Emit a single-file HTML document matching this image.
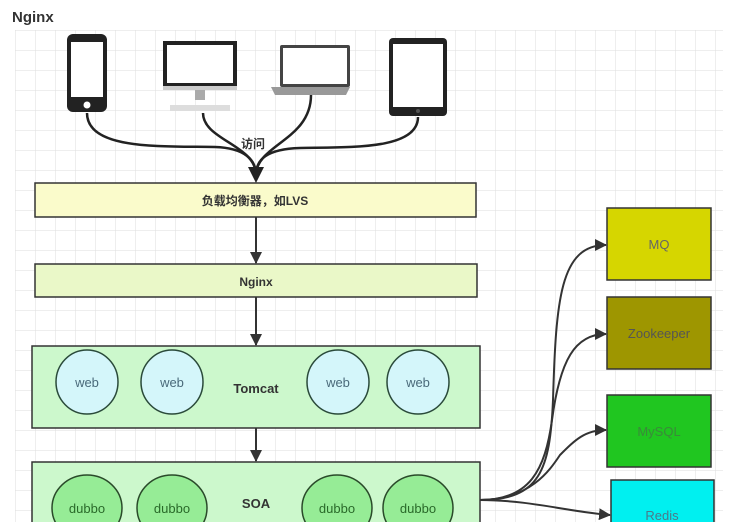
<!DOCTYPE html>
<html><head><meta charset="utf-8"><style>
html,body{margin:0;padding:0;background:#fff;}
body{width:730px;height:522px;overflow:hidden;position:relative;font-family:"Liberation Sans","Noto Sans CJK SC",sans-serif;}
</style></head><body>
<svg width="730" height="522" viewBox="0 0 730 522" xmlns="http://www.w3.org/2000/svg" style="position:absolute;left:0;top:0">
<defs>
<pattern id="g" width="20" height="20" patternUnits="userSpaceOnUse" x="15" y="30">
<path d="M20 0H0V20" fill="none" stroke="#dedede" stroke-width="1"/>
</pattern>
<marker id="a" markerWidth="12" markerHeight="12" refX="11" refY="6" orient="auto" markerUnits="userSpaceOnUse"><path d="M0 0L12 6L0 12z" fill="#333"/></marker>
</defs>
<rect x="15" y="30" width="708" height="492" fill="url(#g)"/>
<text x="12" y="22" font-size="15" font-weight="bold" fill="#333">Nginx</text>

<rect x="67" y="34" width="40" height="78" rx="6" fill="#222"/>
<rect x="71" y="42" width="32" height="55" fill="#fff"/>
<circle cx="87" cy="105" r="3.5" fill="#fff"/>
<rect x="163" y="41" width="74" height="48" fill="#222"/>
<rect x="167" y="45" width="66" height="38" fill="#fff"/>
<rect x="163" y="86" width="74" height="4" fill="#ccc"/>
<rect x="195" y="90" width="10" height="10" fill="#aaa"/>
<rect x="170" y="105" width="60" height="6" fill="#ddd"/>
<rect x="280" y="45" width="70" height="42" rx="2" fill="#444"/>
<rect x="283" y="48" width="64" height="36" fill="#fff"/>
<path d="M271 87H350L346 95H275z" fill="#999"/>
<rect x="389" y="38" width="58" height="78" rx="4" fill="#222"/>
<rect x="393" y="44" width="50" height="63" fill="#fff"/>
<circle cx="418" cy="111" r="2" fill="#555"/>

<g fill="none" stroke="#222" stroke-width="2.5">
<path d="M87 113C87 150 160 146 215 147C245 148 256 160 256 175"/>
<path d="M203 113C203 140 256 145 256 175"/>
<path d="M311 95C311 140 256 145 256 175"/>
<path d="M418 117C418 150 350 147 300 148C266 149 256 160 256 175"/>
</g>
<path d="M248 167L264 167L256 183z" fill="#222"/>
<text x="253" y="148" font-size="12" font-weight="bold" fill="#333" text-anchor="middle">访问</text>

<rect x="35" y="183" width="441" height="34" fill="#fafbcb" stroke="#333" stroke-width="1.5"/>
<text x="255" y="205" font-size="12" font-weight="bold" fill="#333" text-anchor="middle">负载均衡器，如LVS</text>

<g stroke="#333" stroke-width="2" marker-end="url(#a)">
<line x1="256" y1="217" x2="256" y2="263"/>
<line x1="256" y1="297" x2="256" y2="345"/>
<line x1="256" y1="428" x2="256" y2="461"/>
</g>

<rect x="35" y="264" width="442" height="33" fill="#eaf8c8" stroke="#333" stroke-width="1.5"/>
<text x="256" y="286" font-size="12" font-weight="bold" fill="#333" text-anchor="middle">Nginx</text>

<rect x="32" y="346" width="448" height="82" fill="#ccf8cc" stroke="#333" stroke-width="1.5"/>
<g fill="#d4f6fa" stroke="#2a4a3a" stroke-width="1.5">
<ellipse cx="87" cy="382" rx="31" ry="32"/>
<ellipse cx="172" cy="382" rx="31" ry="32"/>
<ellipse cx="338" cy="382" rx="31" ry="32"/>
<ellipse cx="418" cy="382" rx="31" ry="32"/>
</g>
<g font-size="13" fill="#4a6a7a" text-anchor="middle">
<text x="87" y="387">web</text><text x="172" y="387">web</text><text x="338" y="387">web</text><text x="418" y="387">web</text>
</g>
<text x="256" y="393" font-size="13" font-weight="bold" fill="#333" text-anchor="middle">Tomcat</text>

<rect x="32" y="462" width="448" height="70" fill="#ccf8cc" stroke="#333" stroke-width="1.5"/>
<g fill="#96ec96" stroke="#2a4a2a" stroke-width="1.5">
<ellipse cx="87" cy="508" rx="35" ry="33"/>
<ellipse cx="172" cy="508" rx="35" ry="33"/>
<ellipse cx="337" cy="508" rx="35" ry="33"/>
<ellipse cx="418" cy="508" rx="35" ry="33"/>
</g>
<g font-size="13" fill="#2a6a2a" text-anchor="middle">
<text x="87" y="513">dubbo</text><text x="172" y="513">dubbo</text><text x="337" y="513">dubbo</text><text x="418" y="513">dubbo</text>
</g>
<text x="256" y="508" font-size="13" font-weight="bold" fill="#333" text-anchor="middle">SOA</text>

<rect x="607" y="208" width="104" height="72" fill="#d6d600" stroke="#333" stroke-width="1.5"/>
<text x="659" y="249" font-size="13" fill="#666" text-anchor="middle">MQ</text>
<rect x="607" y="297" width="104" height="72" fill="#9e9600" stroke="#333" stroke-width="1.5"/>
<text x="659" y="338" font-size="13" fill="#555" text-anchor="middle">Zookeeper</text>
<rect x="607" y="395" width="104" height="72" fill="#20c620" stroke="#333" stroke-width="1.5"/>
<text x="659" y="436" font-size="13" fill="#3a8a3a" text-anchor="middle">MySQL</text>
<rect x="611" y="480" width="103" height="50" fill="#00f0f0" stroke="#333" stroke-width="1.5"/>
<text x="662" y="520" font-size="13" fill="#4a7a8a" text-anchor="middle">Redis</text>

<g fill="none" stroke="#333" stroke-width="2" marker-end="url(#a)">
<path d="M480 500C540 500 550 470 553 400C556 300 560 245 606 245"/>
<path d="M480 500C530 500 545 470 552 420C560 360 575 334 606 334"/>
<path d="M480 500C530 500 550 470 560 455C575 440 585 430 606 430"/>
<path d="M480 500C530 500 570 512 610 515"/>
</g>
</svg>
</body></html>
